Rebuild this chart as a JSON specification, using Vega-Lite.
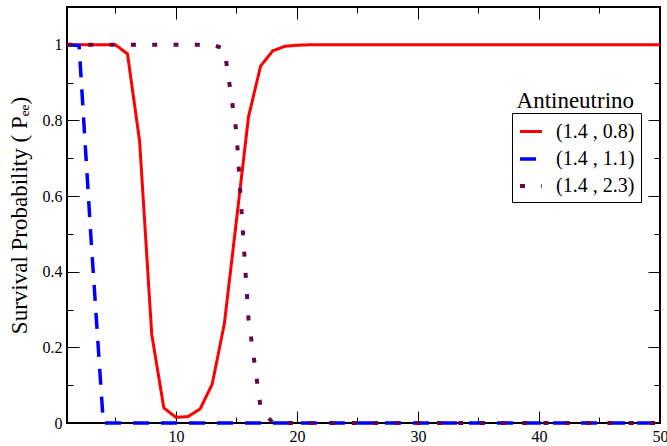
{
  "$schema": "https://vega.github.io/schema/vega-lite/v6.json",
  "width": 593,
  "height": 416,
  "autosize": {"type": "none"},
  "padding": {"left": 67, "top": 7, "right": 7, "bottom": 23},
  "background": "white",
  "config": {
    "view": {"stroke": "black", "strokeWidth": 2},
    "font": "Liberation Serif",
    "axis": {
      "grid": false,
      "domain": false,
      "labelFont": "Liberation Serif",
      "labelFontSize": 16,
      "labelColor": "black",
      "tickColor": "black",
      "tickWidth": 1,
      "titleFont": "Liberation Serif",
      "titleFontWeight": "normal",
      "titleColor": "black",
      "labelFlush": false
    },
    "legend": {
      "orient": "none",
      "legendX": 445,
      "legendY": 106,
      "strokeColor": "black",
      "fillColor": "white",
      "padding": 6,
      "symbolType": "stroke",
      "symbolSize": 484,
      "labelFont": "Liberation Serif",
      "labelFontSize": 20,
      "labelColor": "black",
      "labelOffset": 12,
      "rowPadding": 4
    }
  },
  "datasets": {
    "curves": [
      {"series": "(1.4 , 0.8)", "x": 1, "p": 1}, {"series": "(1.4 , 0.8)", "x": 2, "p": 1}, {"series": "(1.4 , 0.8)", "x": 3, "p": 1}, {"series": "(1.4 , 0.8)", "x": 4, "p": 1}, {"series": "(1.4 , 0.8)", "x": 5, "p": 1},
      {"series": "(1.4 , 0.8)", "x": 6, "p": 0.976}, {"series": "(1.4 , 0.8)", "x": 7, "p": 0.745}, {"series": "(1.4 , 0.8)", "x": 8, "p": 0.235}, {"series": "(1.4 , 0.8)", "x": 9, "p": 0.04}, {"series": "(1.4 , 0.8)", "x": 10, "p": 0.015},
      {"series": "(1.4 , 0.8)", "x": 11, "p": 0.017}, {"series": "(1.4 , 0.8)", "x": 12, "p": 0.037}, {"series": "(1.4 , 0.8)", "x": 13, "p": 0.103}, {"series": "(1.4 , 0.8)", "x": 14, "p": 0.262}, {"series": "(1.4 , 0.8)", "x": 15, "p": 0.535},
      {"series": "(1.4 , 0.8)", "x": 16, "p": 0.81}, {"series": "(1.4 , 0.8)", "x": 17, "p": 0.944}, {"series": "(1.4 , 0.8)", "x": 18, "p": 0.984}, {"series": "(1.4 , 0.8)", "x": 19, "p": 0.996}, {"series": "(1.4 , 0.8)", "x": 20, "p": 0.999},
      {"series": "(1.4 , 0.8)", "x": 21, "p": 1}, {"series": "(1.4 , 0.8)", "x": 22, "p": 1}, {"series": "(1.4 , 0.8)", "x": 23, "p": 1}, {"series": "(1.4 , 0.8)", "x": 24, "p": 1}, {"series": "(1.4 , 0.8)", "x": 25, "p": 1},
      {"series": "(1.4 , 0.8)", "x": 26, "p": 1}, {"series": "(1.4 , 0.8)", "x": 27, "p": 1}, {"series": "(1.4 , 0.8)", "x": 28, "p": 1}, {"series": "(1.4 , 0.8)", "x": 29, "p": 1}, {"series": "(1.4 , 0.8)", "x": 30, "p": 1},
      {"series": "(1.4 , 0.8)", "x": 31, "p": 1}, {"series": "(1.4 , 0.8)", "x": 32, "p": 1}, {"series": "(1.4 , 0.8)", "x": 33, "p": 1}, {"series": "(1.4 , 0.8)", "x": 34, "p": 1}, {"series": "(1.4 , 0.8)", "x": 35, "p": 1},
      {"series": "(1.4 , 0.8)", "x": 36, "p": 1}, {"series": "(1.4 , 0.8)", "x": 37, "p": 1}, {"series": "(1.4 , 0.8)", "x": 38, "p": 1}, {"series": "(1.4 , 0.8)", "x": 39, "p": 1}, {"series": "(1.4 , 0.8)", "x": 40, "p": 1},
      {"series": "(1.4 , 0.8)", "x": 41, "p": 1}, {"series": "(1.4 , 0.8)", "x": 42, "p": 1}, {"series": "(1.4 , 0.8)", "x": 43, "p": 1}, {"series": "(1.4 , 0.8)", "x": 44, "p": 1}, {"series": "(1.4 , 0.8)", "x": 45, "p": 1},
      {"series": "(1.4 , 0.8)", "x": 46, "p": 1}, {"series": "(1.4 , 0.8)", "x": 47, "p": 1}, {"series": "(1.4 , 0.8)", "x": 48, "p": 1}, {"series": "(1.4 , 0.8)", "x": 49, "p": 1}, {"series": "(1.4 , 0.8)", "x": 50, "p": 1},

      {"series": "(1.4 , 1.1)", "x": 1, "p": 1}, {"series": "(1.4 , 1.1)", "x": 2, "p": 0.998}, {"series": "(1.4 , 1.1)", "x": 3, "p": 0.48}, {"series": "(1.4 , 1.1)", "x": 4, "p": 0}, {"series": "(1.4 , 1.1)", "x": 5, "p": 0},
      {"series": "(1.4 , 1.1)", "x": 6, "p": 0}, {"series": "(1.4 , 1.1)", "x": 7, "p": 0}, {"series": "(1.4 , 1.1)", "x": 8, "p": 0}, {"series": "(1.4 , 1.1)", "x": 9, "p": 0}, {"series": "(1.4 , 1.1)", "x": 10, "p": 0},
      {"series": "(1.4 , 1.1)", "x": 11, "p": 0}, {"series": "(1.4 , 1.1)", "x": 12, "p": 0}, {"series": "(1.4 , 1.1)", "x": 13, "p": 0}, {"series": "(1.4 , 1.1)", "x": 14, "p": 0}, {"series": "(1.4 , 1.1)", "x": 15, "p": 0},
      {"series": "(1.4 , 1.1)", "x": 16, "p": 0}, {"series": "(1.4 , 1.1)", "x": 17, "p": 0}, {"series": "(1.4 , 1.1)", "x": 18, "p": 0}, {"series": "(1.4 , 1.1)", "x": 19, "p": 0}, {"series": "(1.4 , 1.1)", "x": 20, "p": 0},
      {"series": "(1.4 , 1.1)", "x": 21, "p": 0}, {"series": "(1.4 , 1.1)", "x": 22, "p": 0}, {"series": "(1.4 , 1.1)", "x": 23, "p": 0}, {"series": "(1.4 , 1.1)", "x": 24, "p": 0}, {"series": "(1.4 , 1.1)", "x": 25, "p": 0},
      {"series": "(1.4 , 1.1)", "x": 26, "p": 0}, {"series": "(1.4 , 1.1)", "x": 27, "p": 0}, {"series": "(1.4 , 1.1)", "x": 28, "p": 0}, {"series": "(1.4 , 1.1)", "x": 29, "p": 0}, {"series": "(1.4 , 1.1)", "x": 30, "p": 0},
      {"series": "(1.4 , 1.1)", "x": 31, "p": 0}, {"series": "(1.4 , 1.1)", "x": 32, "p": 0}, {"series": "(1.4 , 1.1)", "x": 33, "p": 0}, {"series": "(1.4 , 1.1)", "x": 34, "p": 0}, {"series": "(1.4 , 1.1)", "x": 35, "p": 0},
      {"series": "(1.4 , 1.1)", "x": 36, "p": 0}, {"series": "(1.4 , 1.1)", "x": 37, "p": 0}, {"series": "(1.4 , 1.1)", "x": 38, "p": 0}, {"series": "(1.4 , 1.1)", "x": 39, "p": 0}, {"series": "(1.4 , 1.1)", "x": 40, "p": 0},
      {"series": "(1.4 , 1.1)", "x": 41, "p": 0}, {"series": "(1.4 , 1.1)", "x": 42, "p": 0}, {"series": "(1.4 , 1.1)", "x": 43, "p": 0}, {"series": "(1.4 , 1.1)", "x": 44, "p": 0}, {"series": "(1.4 , 1.1)", "x": 45, "p": 0},
      {"series": "(1.4 , 1.1)", "x": 46, "p": 0}, {"series": "(1.4 , 1.1)", "x": 47, "p": 0}, {"series": "(1.4 , 1.1)", "x": 48, "p": 0}, {"series": "(1.4 , 1.1)", "x": 49, "p": 0}, {"series": "(1.4 , 1.1)", "x": 50, "p": 0},

      {"series": "(1.4 , 2.3)", "x": 1, "p": 1}, {"series": "(1.4 , 2.3)", "x": 2, "p": 1}, {"series": "(1.4 , 2.3)", "x": 3, "p": 1}, {"series": "(1.4 , 2.3)", "x": 4, "p": 1}, {"series": "(1.4 , 2.3)", "x": 5, "p": 1},
      {"series": "(1.4 , 2.3)", "x": 6, "p": 1}, {"series": "(1.4 , 2.3)", "x": 7, "p": 1}, {"series": "(1.4 , 2.3)", "x": 8, "p": 1}, {"series": "(1.4 , 2.3)", "x": 9, "p": 1}, {"series": "(1.4 , 2.3)", "x": 10, "p": 1},
      {"series": "(1.4 , 2.3)", "x": 11, "p": 1}, {"series": "(1.4 , 2.3)", "x": 12, "p": 1}, {"series": "(1.4 , 2.3)", "x": 13, "p": 1}, {"series": "(1.4 , 2.3)", "x": 14, "p": 0.99}, {"series": "(1.4 , 2.3)", "x": 15, "p": 0.77},
      {"series": "(1.4 , 2.3)", "x": 16, "p": 0.275}, {"series": "(1.4 , 2.3)", "x": 17, "p": 0.04}, {"series": "(1.4 , 2.3)", "x": 18, "p": 0}, {"series": "(1.4 , 2.3)", "x": 19, "p": 0}, {"series": "(1.4 , 2.3)", "x": 20, "p": 0},
      {"series": "(1.4 , 2.3)", "x": 21, "p": 0}, {"series": "(1.4 , 2.3)", "x": 22, "p": 0}, {"series": "(1.4 , 2.3)", "x": 23, "p": 0}, {"series": "(1.4 , 2.3)", "x": 24, "p": 0}, {"series": "(1.4 , 2.3)", "x": 25, "p": 0},
      {"series": "(1.4 , 2.3)", "x": 26, "p": 0}, {"series": "(1.4 , 2.3)", "x": 27, "p": 0}, {"series": "(1.4 , 2.3)", "x": 28, "p": 0}, {"series": "(1.4 , 2.3)", "x": 29, "p": 0}, {"series": "(1.4 , 2.3)", "x": 30, "p": 0},
      {"series": "(1.4 , 2.3)", "x": 31, "p": 0}, {"series": "(1.4 , 2.3)", "x": 32, "p": 0}, {"series": "(1.4 , 2.3)", "x": 33, "p": 0}, {"series": "(1.4 , 2.3)", "x": 34, "p": 0}, {"series": "(1.4 , 2.3)", "x": 35, "p": 0},
      {"series": "(1.4 , 2.3)", "x": 36, "p": 0}, {"series": "(1.4 , 2.3)", "x": 37, "p": 0}, {"series": "(1.4 , 2.3)", "x": 38, "p": 0}, {"series": "(1.4 , 2.3)", "x": 39, "p": 0}, {"series": "(1.4 , 2.3)", "x": 40, "p": 0},
      {"series": "(1.4 , 2.3)", "x": 41, "p": 0}, {"series": "(1.4 , 2.3)", "x": 42, "p": 0}, {"series": "(1.4 , 2.3)", "x": 43, "p": 0}, {"series": "(1.4 , 2.3)", "x": 44, "p": 0}, {"series": "(1.4 , 2.3)", "x": 45, "p": 0},
      {"series": "(1.4 , 2.3)", "x": 46, "p": 0}, {"series": "(1.4 , 2.3)", "x": 47, "p": 0}, {"series": "(1.4 , 2.3)", "x": 48, "p": 0}, {"series": "(1.4 , 2.3)", "x": 49, "p": 0}, {"series": "(1.4 , 2.3)", "x": 50, "p": 0}
    ],
    "legendTitle": [{"x": 43, "y": 0.852, "text": "Antineutrino"}]
  },
  "layer": [
    {
      "data": {"name": "curves"},
      "mark": {"type": "line", "strokeCap": "butt", "strokeJoin": "miter"},
      "encoding": {
        "x": {"field": "x", "type": "quantitative", "scale": {"domain": [1, 50], "nice": false, "zero": false},
              "axis": {"orient": "bottom", "values": [10, 20, 30, 40, 50], "tickSize": -12, "labelPadding": 17, "title": null}},
        "y": {"field": "p", "type": "quantitative", "scale": {"domain": [0, 1.1], "nice": false},
              "axis": {"orient": "left", "values": [0, 0.2, 0.4, 0.6, 0.8, 1], "format": "~g", "tickSize": -12, "labelPadding": 17, "title": "Survival Probability ( Pₑₑ)", "titleFontSize": 23, "titlePadding": 11}},
        "color": {"field": "series", "type": "nominal", "title": null,
                  "scale": {"domain": ["(1.4 , 0.8)", "(1.4 , 1.1)", "(1.4 , 2.3)"], "range": ["#ff0000", "#0000ff", "#670748"]}},
        "strokeDash": {"field": "series", "type": "nominal", "title": null,
                       "scale": {"domain": ["(1.4 , 0.8)", "(1.4 , 1.1)", "(1.4 , 2.3)"], "range": [[1, 0], [16, 12], [5, 16.3]]}},
        "strokeWidth": {"field": "series", "type": "nominal", "title": null,
                        "scale": {"domain": ["(1.4 , 0.8)", "(1.4 , 1.1)", "(1.4 , 2.3)"], "range": [3, 4, 5]}}
      }
    },
    {
      "data": {"name": "curves"},
      "mark": {"type": "point", "opacity": 0},
      "encoding": {
        "x": {"field": "x", "type": "quantitative", "scale": {"domain": [1, 50], "nice": false, "zero": false},
              "axis": {"orient": "bottom", "values": [5, 15, 25, 35, 45], "tickSize": -6, "labels": false, "title": null}},
        "y": {"field": "p", "type": "quantitative", "scale": {"domain": [0, 1.1], "nice": false},
              "axis": {"orient": "left", "values": [0.1, 0.3, 0.5, 0.7, 0.9], "tickSize": -6, "labels": false, "title": null}}
      }
    },
    {
      "data": {"name": "curves"},
      "mark": {"type": "point", "opacity": 0},
      "encoding": {
        "x": {"field": "x", "type": "quantitative", "scale": {"domain": [1, 50], "nice": false, "zero": false},
              "axis": {"orient": "top", "values": [10, 20, 30, 40, 50], "tickSize": -12, "labels": false, "title": null}},
        "y": {"field": "p", "type": "quantitative", "scale": {"domain": [0, 1.1], "nice": false},
              "axis": {"orient": "right", "values": [0, 0.2, 0.4, 0.6, 0.8, 1], "tickSize": -12, "labels": false, "title": null}}
      }
    },
    {
      "data": {"name": "curves"},
      "mark": {"type": "point", "opacity": 0},
      "encoding": {
        "x": {"field": "x", "type": "quantitative", "scale": {"domain": [1, 50], "nice": false, "zero": false},
              "axis": {"orient": "top", "values": [5, 15, 25, 35, 45], "tickSize": -6, "labels": false, "title": null}},
        "y": {"field": "p", "type": "quantitative", "scale": {"domain": [0, 1.1], "nice": false},
              "axis": {"orient": "right", "values": [0.1, 0.3, 0.5, 0.7, 0.9], "tickSize": -6, "labels": false, "title": null}}
      }
    },
    {
      "data": {"name": "legendTitle"},
      "mark": {"type": "text", "font": "Liberation Serif", "fontSize": 23, "align": "center", "baseline": "middle", "color": "black"},
      "encoding": {
        "x": {"field": "x", "type": "quantitative", "scale": {"domain": [1, 50], "nice": false, "zero": false}, "axis": null},
        "y": {"field": "y", "type": "quantitative", "scale": {"domain": [0, 1.1], "nice": false}, "axis": null},
        "text": {"field": "text"}
      }
    }
  ],
  "resolve": {"axis": {"x": "independent", "y": "independent"}}
}
